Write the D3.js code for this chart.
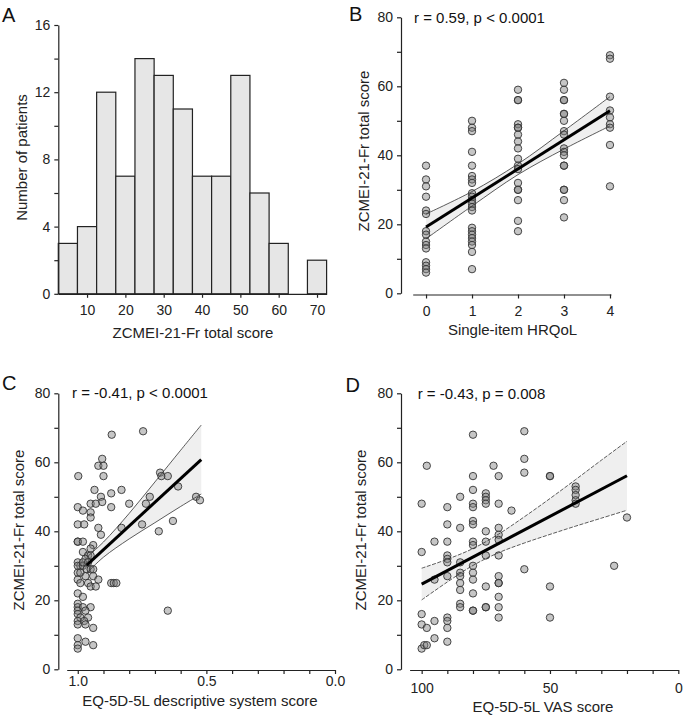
<!DOCTYPE html>
<meta charset="utf-8">
<style>
body { margin: 0; background: #fff; }
svg { font-family: "Liberation Sans", Arial, sans-serif; }
.axis path, .axis line { stroke: #222; stroke-width: 1.2px; fill: none; }
.axis text { font-size: 14px; fill: #222; font-family: "Liberation Sans", Arial, sans-serif; }
.title { font-size: 15px; fill: #222; }
.note { font-size: 15px; fill: #111; }
.letter { font-size: 20px; fill: #111; }
.bar { fill: #e6e6e6; stroke: #222; stroke-width: 1.2px; }
.dot { fill: #808080; fill-opacity: 0.45; stroke: #333; stroke-width: 0.9px; }
.band { fill: #ececec; fill-opacity: 0.85; }
.ci { fill: none; stroke: #333; stroke-width: 0.8px; }
.ci.dash { stroke-dasharray: 4,1.5; }
.fit { fill: none; stroke: #000; stroke-width: 3px; }
</style>
<body>
<script src="https://d3js.org/d3.v7.min.js"></script>
<script>

// ---- A: histogram of ZCMEI-21-Fr total score
var binLo = [2.5, 7.5, 12.5, 17.5, 22.5, 27.5, 32.5, 37.5, 42.5, 47.5, 52.5, 57.5, 62.5, 67.5];
var binWidth = 5;
var binCount = [3, 4, 12, 7, 14, 13, 11, 7, 7, 13, 6, 3, 0, 2];

// ---- B: single-item HRQoL (0..4) vs score
var hrqolLevels = [0, 1, 2, 3, 4];
var hrqolScores = [
  [37, 33, 31, 28, 24, 23, 18, 17, 15, 14, 13, 9, 8, 7, 6],
  [50, 48, 47, 41, 37, 34, 33, 32, 29, 28, 27, 26, 25, 24, 19, 18, 17, 16, 15, 14, 12, 7],
  [59, 56, 56, 49, 48, 48, 46, 44, 42, 39, 37, 36, 32, 30, 30, 27, 21, 18],
  [61, 59, 56, 56, 52, 52, 50, 47, 46, 42, 41, 40, 37, 37, 30, 30, 27, 22],
  [69, 68, 57, 53, 51, 49, 48, 43, 31]
];
var fitBx = [0, 4], fitBy = [19.2, 52.9];
var bandBx = [0, 1, 2, 3, 4];
var bandBlo = [15.8, 25.3, 34.4, 41.8, 48.5];
var bandBhi = [23.0, 29.5, 37.5, 47.1, 57.0];

// ---- C: EQ-5D-5L descriptive system score vs score
var eqIndex = [0.868, 0.746, 0.905, 0.92, 0.90, 0.998, 0.90, 0.68, 0.675, 0.65, 0.935, 0.83, 0.87, 0.91, 0.905,
  0.95, 0.93, 1.0, 0.87, 0.80, 0.72, 0.735, 0.61, 0.54, 0.525, 0.98, 0.95, 0.95, 1.0, 0.975, 0.92, 0.83, 0.75,
  0.91, 0.63, 0.685, 1.0, 1.0, 0.98, 0.94, 0.95, 0.98, 0.96, 0.95, 0.97, 1.0, 0.99, 1.0, 0.98, 0.965, 0.95, 1.0,
  0.99, 0.97, 0.94, 0.92, 1.0, 0.96, 0.99, 0.95, 0.93, 0.98, 0.96, 0.94, 0.87, 0.86, 0.85, 0.65, 1.0, 0.98, 1.0,
  1.0, 0.98, 0.95, 1.0, 0.97, 1.0, 0.99, 0.96, 1.0, 0.975, 0.97, 1.0, 0.94, 1.0, 0.97, 1.0, 0.94, 1.0];
var eqScore = [68, 69, 61, 59, 59, 56, 56, 57, 56, 56, 52, 52, 51, 50, 48.5,
  48, 48, 47, 47, 48, 50, 48, 53, 50, 49, 46, 45.5, 44, 42, 42, 41, 41, 42,
  39, 43, 40, 37, 37, 37, 36, 35, 34, 33, 33, 32, 31, 30, 30, 30, 29, 29, 28,
  28, 27, 27, 26, 26, 25, 25, 24, 24, 31, 31, 29, 25, 25, 25, 17, 22, 21, 19,
  18, 18, 18, 17, 17, 16, 15, 15, 14, 14, 13, 13, 12, 9, 8, 7, 7, 6];
var fitCx = [0.965, 0.52], fitCy = [30.2, 60.8];
var bandCx = [0.965, 0.9, 0.8, 0.7, 0.6, 0.52];
var bandClo = [27.9, 32.5, 37.8, 42.5, 47.2, 50.8];
var bandChi = [32.5, 36.9, 45.2, 54.3, 63.5, 70.8];

// ---- D: EQ-5D-5L VAS vs score
var vas = [80, 60, 98, 72, 60, 60, 80, 70, 50, 50, 80, 75, 75, 75, 75, 85, 90, 80, 80, 70, 65, 100, 80, 80,
  90, 85, 70, 75, 70, 70, 95, 90, 80, 80, 75, 100, 90, 90, 90, 85, 75, 70, 95, 90, 85, 85, 85, 85, 80, 80,
  80, 80, 75, 70, 70, 70, 70, 70, 70, 60, 85, 85, 80, 80, 75, 75, 100, 100, 98, 95, 90, 90, 90, 95, 90, 100,
  99, 98, 40, 40, 40, 40, 40, 20, 25, 50, 50];
var vasScore = [68, 69, 59, 59, 61, 57, 56, 56, 56, 56, 52, 51, 50, 49, 48, 50, 47, 48, 47, 48, 46, 48, 43, 42,
  42, 41, 41, 40, 39, 37.5, 37, 37, 37, 36, 37, 34, 33, 32, 31, 31, 33, 33, 26, 27, 28, 27, 25, 23, 30, 28,
  26, 22, 24, 27, 25, 25, 21, 18, 15, 29, 19, 18, 17, 17, 18, 18, 16, 13, 12, 14, 15, 14, 12, 9, 8, 6,
  7, 7, 53, 52, 50.5, 49, 48, 44, 30, 24, 15];
var fitDx = [100, 20], fitDy = [24.7, 56.1];
var bandDx = [100, 90, 80, 70, 60, 50, 40, 30, 20];
var bandDlo = [20.1, 25.3, 30.1, 33.8, 36.6, 39.1, 41.5, 43.8, 46.1];
var bandDhi = [29.3, 31.9, 35.0, 39.2, 44.2, 49.5, 55.0, 60.6, 66.1];

var yTitle = "ZCMEI-21-Fr total score";

var svg = d3.select("body").append("svg")
    .attr("width", 685)
    .attr("height", 717);

function yAxes(scale, x, major, minor) {
  svg.append("g").attr("class", "axis")
      .attr("transform", "translate(" + x + ",0)")
      .call(d3.axisLeft(scale).tickValues(major).tickSize(4).tickSizeOuter(0).tickPadding(4));
  svg.append("g").attr("class", "axis")
      .attr("transform", "translate(" + x + ",0)")
      .call(d3.axisLeft(scale).tickValues(minor).tickSize(4).tickFormat(""))
      .select(".domain").remove();
}

function xAxis(scale, y, ticks, labelled, fmt, pad) {
  svg.append("g").attr("class", "axis")
      .attr("transform", "translate(0," + y + ")")
      .call(d3.axisBottom(scale).tickValues(ticks).tickSize(4).tickSizeOuter(0).tickPadding(pad)
        .tickFormat(function(d) { return labelled.indexOf(d) >= 0 ? fmt(d) : ""; }));
}

function text(cls, x, y, s, anchor, rot) {
  var t = svg.append("text").attr("class", cls).text(s);
  if (rot) {
    t.attr("transform", "translate(" + x + "," + y + ") rotate(-90)")
     .attr("text-anchor", "middle").attr("dy", "0.35em");
  } else {
    t.attr("x", x).attr("y", y).attr("text-anchor", anchor || "start");
  }
  return t;
}

function regression(xs, ys, bx, blo, bhi, fx, fy, dashed) {
  var pts = bx.map(function(d, i) { return [d, blo[i], bhi[i]]; });
  var area = d3.area().curve(d3.curveCatmullRom)
      .x(function(d) { return xs(d[0]); })
      .y0(function(d) { return ys(d[1]); })
      .y1(function(d) { return ys(d[2]); });
  svg.append("path").attr("class", "band").attr("d", area(pts));
  return function() {
    var lo = d3.line().curve(d3.curveCatmullRom).x(function(d) { return xs(d[0]); }).y(function(d) { return ys(d[1]); });
    var hi = d3.line().curve(d3.curveCatmullRom).x(function(d) { return xs(d[0]); }).y(function(d) { return ys(d[2]); });
    svg.append("path").attr("class", dashed ? "ci dash" : "ci").attr("d", lo(pts));
    svg.append("path").attr("class", dashed ? "ci dash" : "ci").attr("d", hi(pts));
    svg.append("path").attr("class", "fit")
        .attr("d", d3.line()([[xs(fx[0]), ys(fy[0])], [xs(fx[1]), ys(fy[1])]]));
  };
}

function dots(xs, ys, px, py) {
  svg.append("g").selectAll("circle")
    .data(px.map(function(d, i) { return [d, py[i]]; }))
    .enter().append("circle")
      .attr("class", "dot")
      .attr("cx", function(d) { return xs(d[0]); })
      .attr("cy", function(d) { return ys(d[1]); })
      .attr("r", 3.7);
}

// ================= A
var xA = d3.scaleLinear().domain([2.5, 72.5]).range([58.3, 326.6]);
var yA = d3.scaleLinear().domain([0, 16]).range([293.8, 25]);

svg.append("g").selectAll("rect")
  .data(binLo.map(function(d, i) { return [d, binCount[i]]; }).filter(function(d) { return d[1] > 0; }))
  .enter().append("rect")
    .attr("class", "bar")
    .attr("x", function(d) { return xA(d[0]); })
    .attr("width", function(d) { return xA(d[0] + binWidth) - xA(d[0]); })
    .attr("y", function(d) { return yA(d[1]); })
    .attr("height", function(d) { return yA(0) - yA(d[1]); });

yAxes(yA, 58.3, [0, 4, 8, 12, 16], [2, 6, 10, 14]);
xAxis(xA, 293.8, [10, 20, 30, 40, 50, 60, 70], [10, 20, 30, 40, 50, 60, 70], d3.format("d"), 7);
text("title", 21.7, 157.5, "Number of patients", null, true);
text("title", 193, 338, "ZCMEI-21-Fr total score", "middle");
text("letter", 2, 21.5, "A");

// ================= B
var xB = d3.scaleLinear().domain([-0.29, 4.02]).range([412.7, 610.9]);
var yB = d3.scaleLinear().domain([0, 80]).range([293.3, 17.3]);
var bx = [], by = [];
hrqolLevels.forEach(function(l, i) { hrqolScores[i].forEach(function(s) { bx.push(l); by.push(s); }); });

var drawB = regression(xB, yB, bandBx, bandBlo, bandBhi, fitBx, fitBy, false);
dots(xB, yB, bx, by);
drawB();
yAxes(yB, 401, [0, 20, 40, 60, 80], [10, 30, 50, 70]);
xAxis(xB, 294.5, [0, 1, 2, 3, 4], [0, 1, 2, 3, 4], d3.format("d"), 8);
text("title", 364, 151, yTitle, null, true);
text("title", 512.5, 335, "Single-item HRQoL", "middle");
text("note", 414, 23.3, "r = 0.59, p < 0.0001");
text("letter", 349, 20.5, "B");

// ================= C
var xC = d3.scaleLinear().domain([1.043, 0]).range([66.7, 335]);
var yC = d3.scaleLinear().domain([0, 80]).range([669.3, 393.3]);

var drawC = regression(xC, yC, bandCx, bandClo, bandChi, fitCx, fitCy, false);
dots(xC, yC, eqIndex, eqScore);
drawC();
yAxes(yC, 58.3, [0, 20, 40, 60, 80], [10, 30, 50, 70]);
xAxis(xC, 670, [1.0, 0.9, 0.8, 0.7, 0.6, 0.5, 0.4, 0.3, 0.2, 0.1, 0.0], [1.0, 0.5, 0.0], d3.format(".1f"), 2);
text("title", 19, 530, yTitle, null, true);
text("title", 200, 706, "EQ-5D-5L descriptive system score", "middle");
text("note", 72, 398, "r = -0.41, p < 0.0001");
text("letter", 2, 390, "C");

// ================= D
var xD = d3.scaleLinear().domain([104.7, 0]).range([409.6, 678.3]);
var yD = d3.scaleLinear().domain([0, 80]).range([669.3, 393.3]);

var drawD = regression(xD, yD, bandDx, bandDlo, bandDhi, fitDx, fitDy, true);
dots(xD, yD, vas, vasScore);
drawD();
yAxes(yD, 401, [0, 20, 40, 60, 80], [10, 30, 50, 70]);
xAxis(xD, 670, [100, 90, 80, 70, 60, 50, 40, 30, 20, 10, 0], [100, 50, 0], d3.format("d"), 9);
text("title", 361, 530, yTitle, null, true);
text("title", 543, 712, "EQ-5D-5L VAS score", "middle");
text("note", 417.7, 399, "r = -0.43, p = 0.008");
text("letter", 345.5, 392, "D");

</script>
</body>
